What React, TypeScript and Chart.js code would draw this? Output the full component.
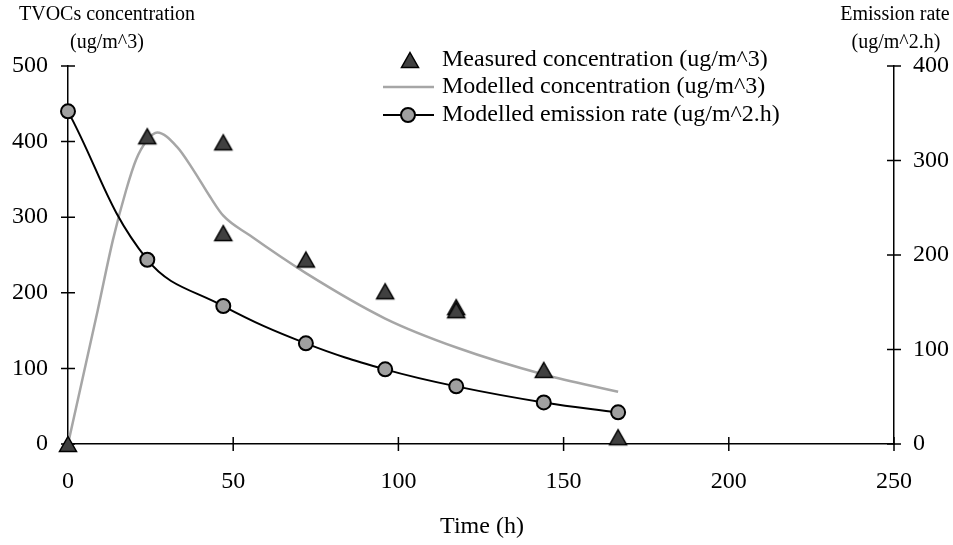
import React, { useEffect, useRef } from 'react';
import { Chart, registerables } from 'chart.js';

Chart.register(...registerables);

// ---- data ----
const measuredTime = [0, 24, 47, 47, 72, 96, 117.5, 117.5, 144, 166.5];
const measuredConc = [0, 407, 399, 279, 244, 202, 181, 177, 98, 9];

const modelConcTime = [0, 9, 13.6, 17.6, 20.6, 24, 27, 33, 38, 43, 47, 55, 72, 96, 118, 144, 166.5];
const modelConc = [0, 177, 270, 336, 376, 402, 412, 393, 362, 327, 302, 276, 226, 166, 127, 92, 69];

const emissionTime = [0, 24, 47, 72, 96, 117.5, 144, 166.5];
const emissionRate = [352, 195, 146, 106.5, 79, 61, 44, 33.5];

const xTickValues = [0, 50, 100, 150, 200, 250];
const leftTickValues = [0, 100, 200, 300, 400, 500];
const rightTickValues = [0, 100, 200, 300, 400];

const legendLabels = [
  'Measured concentration (ug/m^3)',
  'Modelled concentration (ug/m^3)',
  'Modelled emission rate (ug/m^2.h)',
];
const leftTitle = ['TVOCs concentration', '(ug/m^3)'];
const rightTitle = ['Emission rate', '(ug/m^2.h)'];
const xTitle = 'Time (h)';

const FONT = "'Liberation Serif', 'Times New Roman', serif";

function toXY(xs: number[], ys: number[]) {
  return xs.map((x, i) => ({ x, y: ys[i] }));
}

// triangle whose bounding box is centred on (cx, cy)
function traceTriangle(ctx: CanvasRenderingContext2D, cx: number, cy: number, w: number, h: number) {
  ctx.beginPath();
  ctx.moveTo(cx, cy - h / 2);
  ctx.lineTo(cx + w / 2, cy + h / 2);
  ctx.lineTo(cx - w / 2, cy + h / 2);
  ctx.closePath();
}

function makeTriangleImage(): HTMLCanvasElement {
  const c = document.createElement('canvas');
  c.width = 22;
  c.height = 20;
  const g = c.getContext('2d')!;
  traceTriangle(g, 11, 10, 17, 15);
  g.fillStyle = '#404040';
  g.fill();
  g.strokeStyle = '#000';
  g.lineWidth = 1.5;
  g.lineJoin = 'miter';
  g.stroke();
  return c;
}

const crossTicks = {
  id: 'crossTicks',
  beforeDatasetsDraw(chart: any) {
    const { ctx, chartArea, scales } = chart;
    const L = 7;
    ctx.save();
    ctx.strokeStyle = '#000';
    ctx.lineWidth = 1.5;
    ctx.beginPath();
    xTickValues.forEach((v) => {
      const p = scales.x.getPixelForValue(v);
      ctx.moveTo(p, chartArea.bottom - L);
      ctx.lineTo(p, chartArea.bottom + L);
    });
    leftTickValues.forEach((v) => {
      const p = scales.y.getPixelForValue(v);
      ctx.moveTo(chartArea.left - L, p);
      ctx.lineTo(chartArea.left + L, p);
    });
    rightTickValues.forEach((v) => {
      const p = scales.y1.getPixelForValue(v);
      ctx.moveTo(chartArea.right - L, p);
      ctx.lineTo(chartArea.right + L, p);
    });
    ctx.stroke();
    ctx.restore();
  },
};

const texts = {
  id: 'texts',
  afterDraw(chart: any) {
    const { ctx } = chart;
    ctx.save();
    ctx.fillStyle = '#000';
    ctx.textBaseline = 'middle';
    // axis titles
    ctx.font = `20px ${FONT}`;
    ctx.textAlign = 'center';
    ctx.fillText(leftTitle[0], 107, 15);
    ctx.fillText(leftTitle[1], 107, 43);
    ctx.fillText(rightTitle[0], 895, 15);
    ctx.fillText(rightTitle[1], 896, 43);
    ctx.font = `24px ${FONT}`;
    ctx.fillText(xTitle, 482, 527);

    // legend
    const rows = [60, 87, 115];
    const symX = 408;
    ctx.textAlign = 'left';
    ctx.font = `24px ${FONT}`;
    legendLabels.forEach((label, i) => {
      ctx.fillStyle = '#000';
      ctx.fillText(label, 442, rows[i]);
    });
    // row 1: triangle
    ctx.fillStyle = '#404040';
    ctx.strokeStyle = '#000';
    ctx.lineWidth = 1.5;
    traceTriangle(ctx, symX + 2, rows[0], 17, 15);
    ctx.fill();
    ctx.stroke();
    // row 2: gray line
    ctx.strokeStyle = '#a6a6a6';
    ctx.lineWidth = 2.5;
    ctx.beginPath();
    ctx.moveTo(383, rows[1]);
    ctx.lineTo(434, rows[1]);
    ctx.stroke();
    // row 3: black line with circle
    ctx.strokeStyle = '#000';
    ctx.lineWidth = 2;
    ctx.beginPath();
    ctx.moveTo(383, rows[2]);
    ctx.lineTo(434, rows[2]);
    ctx.stroke();
    ctx.beginPath();
    ctx.arc(symX, rows[2], 7, 0, Math.PI * 2);
    ctx.fillStyle = '#a0a0a0';
    ctx.fill();
    ctx.lineWidth = 2;
    ctx.stroke();
    ctx.restore();
  },
};

export default function App() {
  const ref = useRef<HTMLCanvasElement | null>(null);

  useEffect(() => {
    document.body.style.margin = '0';
    if (!ref.current) return;
    const tickFont = { family: FONT, size: 24 };
    const triImg = makeTriangleImage();
    const chart = new Chart(ref.current, {
      type: 'scatter',
      data: {
        datasets: [
          {
            label: legendLabels[0],
            data: toXY(measuredTime, measuredConc),
            showLine: false,
            pointStyle: triImg,
            pointRadius: 10,
            pointHoverRadius: 10,
            backgroundColor: '#404040',
            borderColor: '#000',
            borderWidth: 1.5,
            yAxisID: 'y',
            order: 0,
            clip: false,
          },
          {
            label: legendLabels[2],
            data: toXY(emissionTime, emissionRate),
            showLine: true,
            tension: 0.4,
            borderColor: '#000',
            borderWidth: 2,
            pointRadius: 7,
            pointHoverRadius: 7,
            pointBackgroundColor: '#a0a0a0',
            pointBorderColor: '#000',
            pointBorderWidth: 2,
            yAxisID: 'y1',
            order: 1,
            clip: false,
          },
          {
            label: legendLabels[1],
            data: toXY(modelConcTime, modelConc),
            showLine: true,
            cubicInterpolationMode: 'monotone',
            borderColor: '#a6a6a6',
            borderWidth: 2.5,
            pointRadius: 0,
            pointHoverRadius: 0,
            yAxisID: 'y',
            order: 2,
          },
        ],
      },
      options: {
        animation: false,
        responsive: false,
        devicePixelRatio: 1,
        layout: { padding: { top: 66, left: 0, right: 0, bottom: 0 } },
        plugins: { legend: { display: false }, tooltip: { enabled: false } },
        scales: {
          x: {
            type: 'linear',
            position: 'bottom',
            min: 0,
            max: 250,
            afterBuildTicks: (s: any) => { s.ticks = xTickValues.map((v) => ({ value: v })); },
            afterFit: (s: any) => { s.height = 101; },
            ticks: { font: tickFont, color: '#000', padding: 23, maxRotation: 0 },
            grid: { display: false, drawTicks: false },
            border: { display: true, color: '#000', width: 1.5 },
          },
          y: {
            type: 'linear',
            position: 'left',
            min: 0,
            max: 500,
            afterBuildTicks: (s: any) => { s.ticks = leftTickValues.map((v) => ({ value: v })); },
            afterFit: (s: any) => { s.width = 68; },
            ticks: { font: tickFont, color: '#000', padding: 20 },
            grid: { display: false, drawTicks: false },
            border: { display: true, color: '#000', width: 1.5 },
          },
          y1: {
            type: 'linear',
            position: 'right',
            min: 0,
            max: 400,
            afterBuildTicks: (s: any) => { s.ticks = rightTickValues.map((v) => ({ value: v })); },
            afterFit: (s: any) => { s.width = 59; },
            ticks: { font: tickFont, color: '#000', padding: 19 },
            grid: { display: false, drawTicks: false },
            border: { display: true, color: '#000', width: 1.5 },
          },
        },
      },
      plugins: [crossTicks, texts],
    } as any);
    return () => chart.destroy();
  }, []);

  return (
    <div style={{ width: 953, height: 545, background: '#fff' }}>
      <canvas ref={ref} width={953} height={545} />
    </div>
  );
}
